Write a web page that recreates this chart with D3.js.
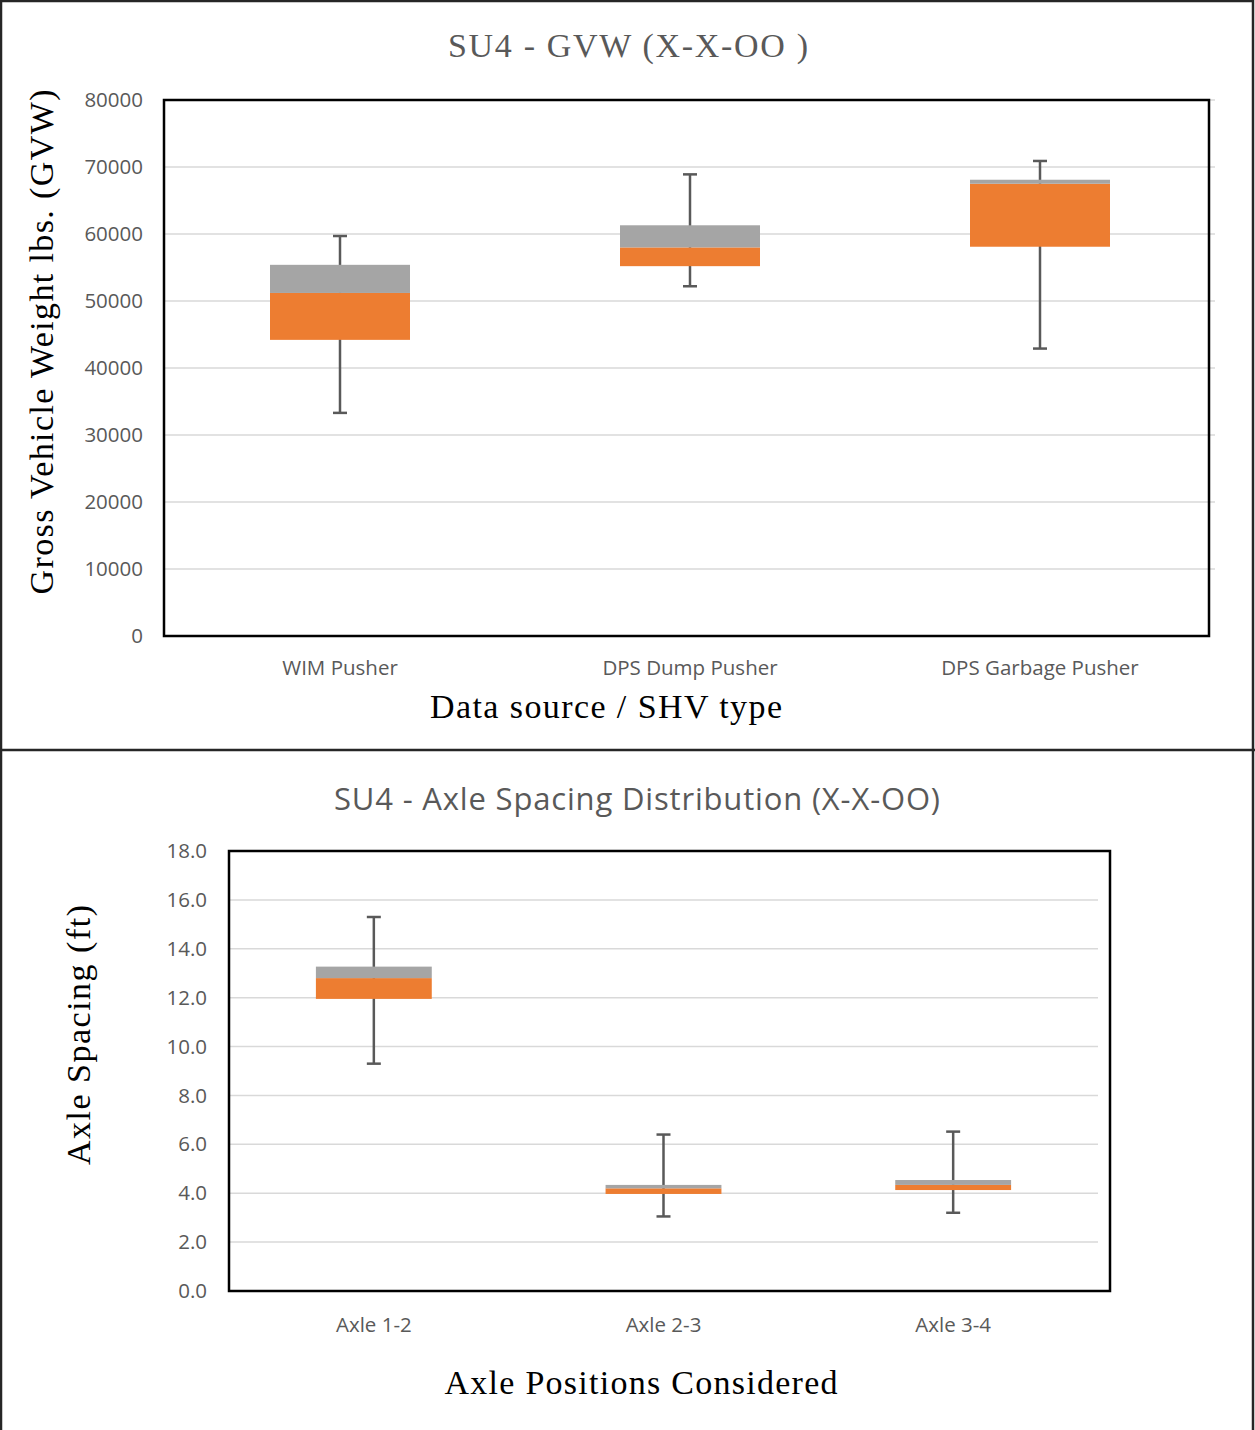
<!DOCTYPE html>
<html>
<head>
<meta charset="utf-8">
<script src="https://cdn.jsdelivr.net/npm/d3@7"></script>
<style>
  body { margin: 0; background: #fff; }
  svg { display: block; }
</style>
</head>
<body>
<div id="chart"></div>
<script>
// Top panel: GVW box plot
const gvwCategories = ["WIM Pusher", "DPS Dump Pusher", "DPS Garbage Pusher"];
const gvwMin = [33300, 52200, 42900];
const gvwQ1 = [44200, 55200, 58100];
const gvwMedian = [51200, 58000, 67500];
const gvwQ3 = [55400, 61300, 68100];
const gvwMax = [59700, 68900, 70900];
const gvwTicks = [0, 10000, 20000, 30000, 40000, 50000, 60000, 70000, 80000];

// Bottom panel: axle spacing box plot
const axleCategories = ["Axle 1-2", "Axle 2-3", "Axle 3-4"];
const axleMin = [9.3, 3.05, 3.2];
const axleQ1 = [11.95, 3.97, 4.13];
const axleMedian = [12.8, 4.2, 4.34];
const axleQ3 = [13.27, 4.34, 4.54];
const axleMax = [15.3, 6.4, 6.52];
const axleTicks = [0, 2, 4, 6, 8, 10, 12, 14, 16, 18];

const W = 1255, H = 1430;
const svg = d3.select("#chart").append("svg")
    .attr("width", W)
    .attr("height", H);

const serif = "'Liberation Serif', 'DejaVu Serif', serif";
const sans = "'Open Sans', 'Noto Sans', sans-serif";

// outer frame and divider
svg.append("rect")
    .attr("x", 1).attr("y", 1)
    .attr("width", 1252).attr("height", 1440)
    .attr("fill", "none").attr("stroke", "#262626").attr("stroke-width", 2.5);
svg.append("line")
    .attr("x1", 0).attr("x2", W).attr("y1", 750).attr("y2", 750)
    .attr("stroke", "#262626").attr("stroke-width", 2.5);

function drawPanel(p) {
  const x = d3.scaleBand()
      .domain(p.categories)
      .range([p.left, p.right])
      .padding(0);
  const y = d3.scaleLinear()
      .domain([p.ticks[0], p.ticks[p.ticks.length - 1]])
      .range([p.bottom, p.top]);
  const boxW = x.bandwidth() * 0.4;
  const cx = d => x(d) + x.bandwidth() / 2;
  const rows = p.categories.map((c, i) => ({
    cat: c, min: p.min[i], q1: p.q1[i], med: p.median[i], q3: p.q3[i], max: p.max[i]
  }));

  const g = svg.append("g");

  // gridlines
  g.selectAll(".grid")
    .data(p.ticks.slice(1))
    .join("line")
    .attr("x1", p.frameLeft).attr("x2", p.right)
    .attr("y1", d => y(d)).attr("y2", d => y(d))
    .attr("stroke", "#d9d9d9").attr("stroke-width", 1.5);

  // y tick labels
  const yAxis = d3.axisLeft(y).tickValues(p.ticks).tickFormat(p.fmt).tickSize(0);
  const ya = g.append("g")
      .attr("transform", `translate(${p.labelX},0)`)
      .call(yAxis);
  ya.select(".domain").remove();
  ya.selectAll("text")
      .attr("font-family", sans).attr("font-size", p.tickSize)
      .attr("fill", "#595959").attr("dx", 0);

  // whiskers
  g.selectAll(".whisk")
    .data(rows)
    .join("line")
    .attr("x1", d => cx(d.cat)).attr("x2", d => cx(d.cat))
    .attr("y1", d => y(d.max)).attr("y2", d => y(d.min))
    .attr("stroke", "#595959").attr("stroke-width", 2.5);
  ["min", "max"].forEach(k => {
    g.selectAll(".cap-" + k)
      .data(rows)
      .join("line")
      .attr("x1", d => cx(d.cat) - 7).attr("x2", d => cx(d.cat) + 7)
      .attr("y1", d => y(d[k])).attr("y2", d => y(d[k]))
      .attr("stroke", "#595959").attr("stroke-width", 2.5);
  });

  // lower box (Q1 - median)
  g.selectAll(".lower")
    .data(rows)
    .join("rect")
    .attr("x", d => cx(d.cat) - boxW / 2).attr("width", boxW)
    .attr("y", d => y(d.med)).attr("height", d => y(d.q1) - y(d.med))
    .attr("fill", "#ed7d31");
  // upper box (median - Q3)
  g.selectAll(".upper")
    .data(rows)
    .join("rect")
    .attr("x", d => cx(d.cat) - boxW / 2).attr("width", boxW)
    .attr("y", d => y(d.q3)).attr("height", d => y(d.med) - y(d.q3))
    .attr("fill", "#a5a5a5");

  // plot frame
  g.append("rect")
    .attr("x", p.frameLeft).attr("y", p.top)
    .attr("width", p.frameRight - p.frameLeft).attr("height", p.bottom - p.top)
    .attr("fill", "none").attr("stroke", "#000").attr("stroke-width", 2.5);

  // category labels
  g.selectAll(".cat")
    .data(p.categories)
    .join("text")
    .attr("x", d => cx(d)).attr("y", p.catY)
    .attr("text-anchor", "middle")
    .attr("font-family", sans).attr("font-size", p.tickSize)
    .attr("fill", "#595959")
    .text(d => d);

  // title
  g.append("text")
    .attr("x", p.titleX).attr("y", p.titleY)
    .attr("text-anchor", "middle")
    .attr("font-family", p.titleFont).attr("font-size", p.titleSize)
    .attr("textLength", p.titleLen).attr("lengthAdjust", "spacing")
    .attr("fill", "#595959")
    .text(p.title);

  // axis titles
  g.append("text")
    .attr("x", p.xTitleX).attr("y", p.xTitleY)
    .attr("text-anchor", "middle")
    .attr("font-family", serif).attr("font-size", p.axisTitleSize)
    .attr("textLength", p.xTitleLen).attr("lengthAdjust", "spacing")
    .attr("fill", "#000")
    .text(p.xTitle);
  g.append("text")
    .attr("transform", `translate(${p.yTitleX},${p.yTitleY}) rotate(-90)`)
    .attr("text-anchor", "middle")
    .attr("font-family", serif).attr("font-size", p.axisTitleSize)
    .attr("textLength", p.yTitleLen).attr("lengthAdjust", "spacing")
    .attr("fill", "#000")
    .text(p.yTitle);
}

drawPanel({
  categories: gvwCategories, min: gvwMin, q1: gvwQ1, median: gvwMedian, q3: gvwQ3, max: gvwMax,
  ticks: gvwTicks, fmt: d3.format("d"), tickSize: 20.5,
  left: 165, right: 1215, frameLeft: 164, frameRight: 1209, top: 100, bottom: 636,
  labelX: 146, catY: 675,
  title: "SU4 - GVW (X-X-OO )", titleFont: serif, titleSize: 34, titleLen: 360, titleX: 628, titleY: 57,
  xTitle: "Data source / SHV type", xTitleLen: 352, xTitleX: 606, xTitleY: 718,
  yTitle: "Gross Vehicle Weight lbs. (GVW)", yTitleLen: 505, yTitleX: 53, yTitleY: 342,
  axisTitleSize: 34
});

drawPanel({
  categories: axleCategories, min: axleMin, q1: axleQ1, median: axleMedian, q3: axleQ3, max: axleMax,
  ticks: axleTicks, fmt: d3.format(".1f"), tickSize: 20.5,
  left: 229, right: 1098, frameLeft: 229, frameRight: 1110, top: 851, bottom: 1291,
  labelX: 210, catY: 1332,
  title: "SU4 - Axle Spacing Distribution (X-X-OO)", titleFont: sans, titleSize: 31, titleLen: 606, titleX: 637, titleY: 810,
  xTitle: "Axle Positions Considered", xTitleLen: 393, xTitleX: 641, xTitleY: 1394,
  yTitle: "Axle Spacing (ft)", yTitleLen: 260, yTitleX: 90, yTitleY: 1035,
  axisTitleSize: 34
});
</script>
</body>
</html>
